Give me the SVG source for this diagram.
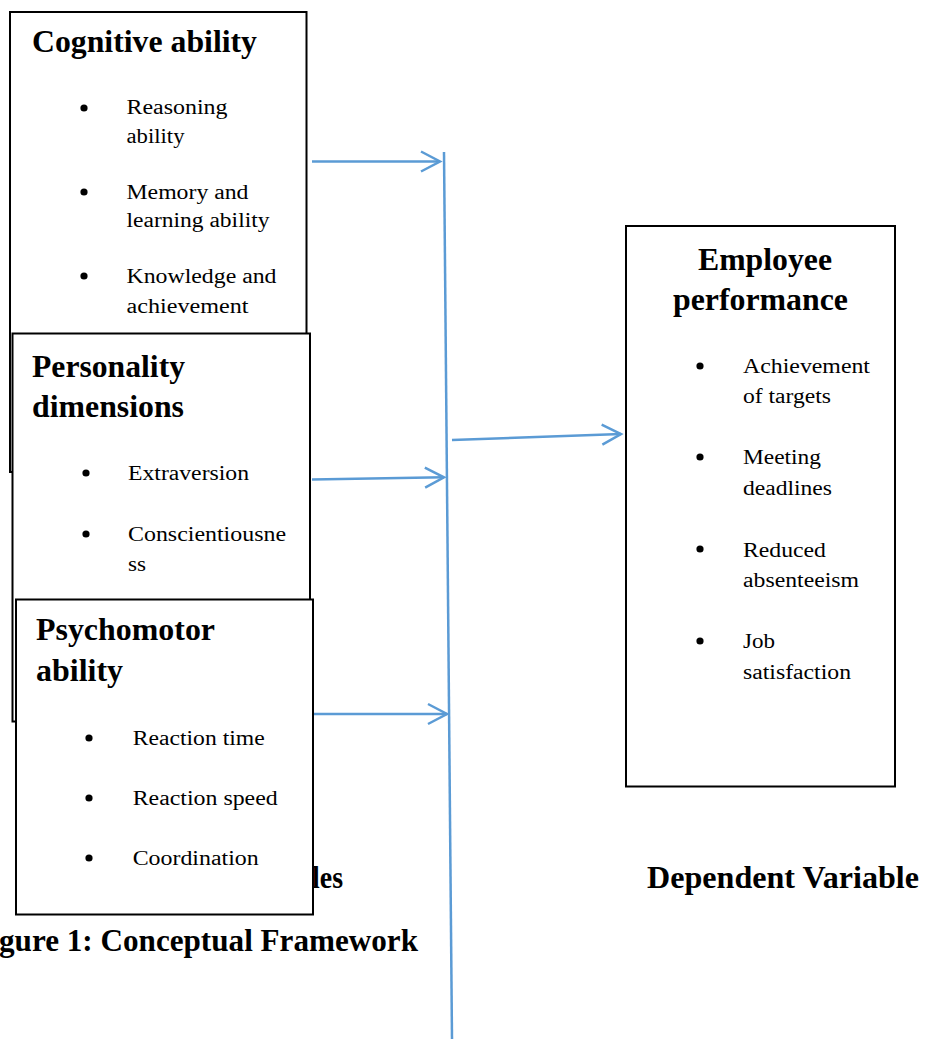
<svg xmlns="http://www.w3.org/2000/svg" width="925" height="1039" viewBox="0 0 925 1039">
<style>
.box{fill:#fff;stroke:#000;stroke-width:2}
.t{font-family:"Liberation Serif","Times New Roman",serif;font-weight:bold;font-size:32px;fill:#000}
.b{font-family:"Liberation Serif","Times New Roman",serif;font-size:20.5px;fill:#000}
.conn{fill:none;stroke:#5B9BD5;stroke-width:2.5}
.dot{fill:#000}
</style>
<defs>
<marker id="ah" markerUnits="userSpaceOnUse" markerWidth="24" markerHeight="26" viewBox="-21 -12 24 24" refX="0" refY="0" orient="auto">
<path d="M-19,-10 L0,0 L-19,10" fill="none" stroke="#5B9BD5" stroke-width="2.5"/>
</marker>
</defs>
<rect width="925" height="1039" fill="#fff"/>

<g id="captions">
<text class="t" x="343" y="888" text-anchor="end" textLength="31" lengthAdjust="spacingAndGlyphs">les</text>
<text class="t" x="-1" y="951" textLength="419" lengthAdjust="spacingAndGlyphs">gure 1: Conceptual Framework</text>
<text class="t" x="647" y="888" textLength="272" lengthAdjust="spacingAndGlyphs">Dependent Variable</text>
</g>

<g id="connectors">
<path class="conn" d="M444,152 L452,1039" stroke-width="1.5"/>
<path class="conn" d="M312,161.5 L440,161.5" marker-end="url(#ah)"/>
<path class="conn" d="M312,479.5 L444,477.3" marker-end="url(#ah)"/>
<path class="conn" d="M312,714 L447,714" marker-end="url(#ah)"/>
<path class="conn" d="M452,440 L621,434" marker-end="url(#ah)"/>
</g>

<g id="cognitive">
<rect class="box" x="10" y="12" width="296.5" height="460"/>
<text class="t" x="32" y="52" textLength="225" lengthAdjust="spacingAndGlyphs">Cognitive ability</text>
<circle class="dot" cx="84" cy="108" r="3.6"/>
<text class="b" x="126.5" y="114" textLength="101" lengthAdjust="spacingAndGlyphs">Reasoning</text>
<text class="b" x="126.5" y="143" textLength="58" lengthAdjust="spacingAndGlyphs">ability</text>
<circle class="dot" cx="84" cy="192" r="3.6"/>
<text class="b" x="126.5" y="199" textLength="122" lengthAdjust="spacingAndGlyphs">Memory and</text>
<text class="b" x="126.5" y="227" textLength="143" lengthAdjust="spacingAndGlyphs">learning ability</text>
<circle class="dot" cx="84" cy="276" r="3.6"/>
<text class="b" x="126.5" y="283" textLength="150" lengthAdjust="spacingAndGlyphs">Knowledge and</text>
<text class="b" x="126.5" y="313" textLength="122" lengthAdjust="spacingAndGlyphs">achievement</text>
</g>

<g id="personality">
<rect class="box" x="12.5" y="333.5" width="297.5" height="388"/>
<text class="t" x="32" y="377" textLength="153" lengthAdjust="spacingAndGlyphs">Personality</text>
<text class="t" x="32" y="417" textLength="152" lengthAdjust="spacingAndGlyphs">dimensions</text>
<circle class="dot" cx="86" cy="473" r="3.6"/>
<text class="b" x="128" y="480" textLength="121" lengthAdjust="spacingAndGlyphs">Extraversion</text>
<circle class="dot" cx="86" cy="534" r="3.6"/>
<text class="b" x="128" y="541" textLength="158" lengthAdjust="spacingAndGlyphs">Conscientiousne</text>
<text class="b" x="128" y="571" textLength="18" lengthAdjust="spacingAndGlyphs">ss</text>
</g>

<g id="psychomotor">
<rect class="box" x="16" y="599.5" width="297" height="315"/>
<text class="t" x="36" y="640" textLength="179" lengthAdjust="spacingAndGlyphs">Psychomotor</text>
<text class="t" x="36" y="681" textLength="87" lengthAdjust="spacingAndGlyphs">ability</text>
<circle class="dot" cx="89" cy="738" r="3.6"/>
<text class="b" x="132.7" y="745" textLength="132" lengthAdjust="spacingAndGlyphs">Reaction time</text>
<circle class="dot" cx="89" cy="798" r="3.6"/>
<text class="b" x="132.7" y="805" textLength="145" lengthAdjust="spacingAndGlyphs">Reaction speed</text>
<circle class="dot" cx="89" cy="858" r="3.6"/>
<text class="b" x="132.7" y="865" textLength="126" lengthAdjust="spacingAndGlyphs">Coordination</text>
</g>

<g id="employee">
<rect class="box" x="626" y="226" width="269" height="560.5"/>
<text class="t" x="698" y="270" textLength="134" lengthAdjust="spacingAndGlyphs">Employee</text>
<text class="t" x="673" y="310" textLength="175" lengthAdjust="spacingAndGlyphs">performance</text>
<circle class="dot" cx="700" cy="366" r="3.6"/>
<text class="b" x="743" y="373" textLength="127" lengthAdjust="spacingAndGlyphs">Achievement</text>
<text class="b" x="743" y="403" textLength="88" lengthAdjust="spacingAndGlyphs">of targets</text>
<circle class="dot" cx="700" cy="457" r="3.6"/>
<text class="b" x="743" y="464" textLength="78" lengthAdjust="spacingAndGlyphs">Meeting</text>
<text class="b" x="743" y="495" textLength="89" lengthAdjust="spacingAndGlyphs">deadlines</text>
<circle class="dot" cx="700" cy="549" r="3.6"/>
<text class="b" x="743" y="557" textLength="83" lengthAdjust="spacingAndGlyphs">Reduced</text>
<text class="b" x="743" y="587" textLength="116" lengthAdjust="spacingAndGlyphs">absenteeism</text>
<circle class="dot" cx="700" cy="641" r="3.6"/>
<text class="b" x="743" y="648" textLength="32" lengthAdjust="spacingAndGlyphs">Job</text>
<text class="b" x="743" y="679" textLength="108" lengthAdjust="spacingAndGlyphs">satisfaction</text>
</g>
</svg>
